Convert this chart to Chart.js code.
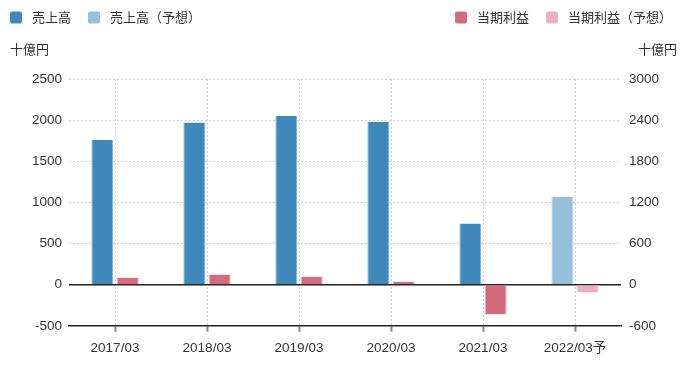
<!DOCTYPE html>
<html>
<head>
<meta charset="utf-8">
<script src="https://cdn.jsdelivr.net/npm/chart.js@4/dist/chart.umd.min.js"></script>
<style>
  html, body { margin: 0; padding: 0; background: #fff; }
  #wrap { width: 684px; height: 365px; }
</style>
</head>
<body>
<div id="wrap"><canvas id="chart"></canvas></div>
<script>
const labels = ['2017/03', '2018/03', '2019/03', '2020/03', '2021/03', '2022/03予'];
const sales = [1760, 1970, 2050, 1980, 745, null];
const salesForecast = [null, null, null, null, null, 1070];
const profit = [100, 147, 117, 42, -430, null];
const profitForecast = [null, null, null, null, null, -115];
const unitLabel = '十億円';

const textColor = '#333';
const gridColor = '#d2d2d2';
const fontFamily = "'Liberation Sans', 'Noto Sans CJK JP', sans-serif";

Chart.defaults.font.family = fontFamily;
Chart.defaults.font.size = 13.5;
Chart.defaults.color = textColor;

// legend split in two groups + unit titles on top
const topTexts = {
    id: 'topTexts',
    afterDraw(chart) {
        const ctx = chart.ctx;
        const ds = chart.data.datasets;
        ctx.save();
        ctx.font = '13px ' + fontFamily;
        ctx.textBaseline = 'middle';
        ctx.fillStyle = textColor;

        const drawItem = (d, x) => {
            ctx.fillStyle = d.backgroundColor;
            ctx.beginPath();
            ctx.roundRect(x, 11.5, 12, 12, 2);
            ctx.fill();
            ctx.fillStyle = textColor;
            ctx.textAlign = 'left';
            ctx.fillText(d.label, x + 22, 18);
            return x + 22 + ctx.measureText(d.label).width + 17;
        };

        let x = 10;
        x = drawItem(ds[0], x);
        drawItem(ds[1], x);

        const w = d => 22 + ctx.measureText(d.label).width;
        x = 672 - (w(ds[2]) + 17 + w(ds[3]));
        x = drawItem(ds[2], x);
        drawItem(ds[3], x);

        ctx.textAlign = 'left';
        ctx.fillText(unitLabel, 10, 50);
        ctx.textAlign = 'right';
        ctx.fillText(unitLabel, 677, 50);
        ctx.restore();
    }
};

const sideBorder = { left: 1, right: 1, top: 0, bottom: 0 };

new Chart(document.getElementById('chart'), {
    type: 'bar',
    data: {
        labels: labels,
        datasets: [{
            label: '売上高',
            data: sales,
            yAxisID: 'y',
            backgroundColor: '#3f88ba',
            borderColor: '#8dbadb',
            borderWidth: sideBorder
        }, {
            label: '売上高（予想）',
            data: salesForecast,
            yAxisID: 'y',
            backgroundColor: '#96bfda',
            borderColor: '#c4dcec',
            borderWidth: sideBorder
        }, {
            label: '当期利益',
            data: profit,
            yAxisID: 'y1',
            backgroundColor: '#d36a7d',
            borderColor: '#eab2bd',
            borderWidth: sideBorder
        }, {
            label: '当期利益（予想）',
            data: profitForecast,
            yAxisID: 'y1',
            backgroundColor: '#e8b1bb',
            borderColor: '#f4d6dc',
            borderWidth: sideBorder
        }]
    },
    options: {
        responsive: true,
        maintainAspectRatio: false,
        animation: false,
        skipNull: true,
        categoryPercentage: 0.55,
        barPercentage: 0.87,
        layout: {
            padding: { top: 79, bottom: 1, left: 0, right: 0 }
        },
        scales: {
            x: {
                grid: {
                    offset: false,
                    color: gridColor,
                    tickColor: '#888',
                    tickWidth: 2,
                    tickLength: 6
                },
                border: {
                    display: true,
                    color: '#222',
                    width: 1.5,
                    dash: [2, 2]
                },
                ticks: {
                    padding: 8,
                    color: textColor,
                    maxRotation: 0
                }
            },
            y: {
                position: 'left',
                min: -500,
                max: 2500,
                afterFit: scale => { scale.width = 69; },
                ticks: {
                    stepSize: 500,
                    padding: 7,
                    color: textColor,
                    callback: v => String(v)
                },
                grid: {
                    drawTicks: false,
                    color: ctx => ctx.tick && ctx.tick.value === 0 ? '#222' : gridColor,
                    lineWidth: ctx => ctx.tick && ctx.tick.value === 0 ? 1.5 : 1
                },
                border: {
                    display: false,
                    dash: ctx => ctx.tick && ctx.tick.value === 0 ? [] : [2, 2]
                }
            },
            y1: {
                position: 'right',
                min: -600,
                max: 3000,
                afterFit: scale => { scale.width = 63; },
                ticks: {
                    stepSize: 600,
                    padding: 8,
                    color: textColor,
                    callback: v => String(v)
                },
                grid: {
                    drawOnChartArea: false,
                    drawTicks: false
                },
                border: { display: false }
            }
        },
        plugins: {
            legend: { display: false },
            tooltip: { enabled: false }
        }
    },
    plugins: [topTexts]
});
</script>
</body>
</html>
